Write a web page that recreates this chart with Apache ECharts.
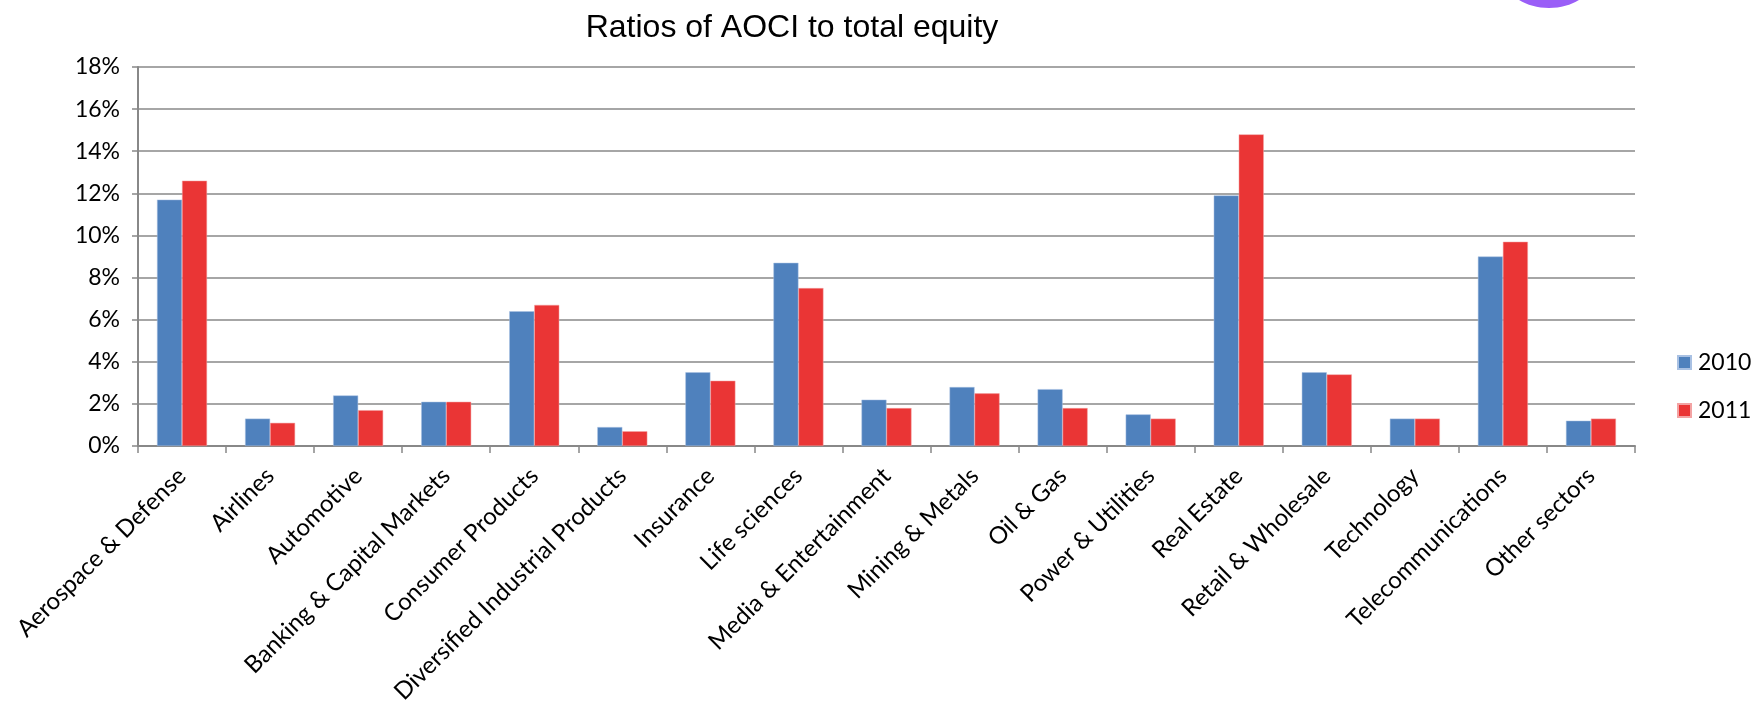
<!DOCTYPE html>
<html>
<head>
<meta charset="utf-8">
<script src="https://cdn.jsdelivr.net/npm/echarts@6/dist/echarts.min.js"></script>
<style>
html,body{margin:0;padding:0;background:#fff;}
#chart{width:1760px;height:710px;}
</style>
</head>
<body>
<div id="chart"></div>
<script>
const titleText = 'Ratios of AOCI to total equity';
const categories = ['Aerospace & Defense','Airlines','Automotive','Banking & Capital Markets','Consumer Products','Diversified Industrial Products','Insurance','Life sciences','Media & Entertainment','Mining & Metals','Oil & Gas','Power & Utilities','Real Estate','Retail & Wholesale','Technology','Telecommunications','Other sectors'];
const seriesNames = ['2010','2011'];
const values2010 = [11.7,1.3,2.4,2.1,6.4,0.9,3.5,8.7,2.2,2.8,2.7,1.5,11.9,3.5,1.3,9.0,1.2];
const values2011 = [12.6,1.1,1.7,2.1,6.7,0.7,3.1,7.5,1.8,2.5,1.8,1.3,14.8,3.4,1.3,9.7,1.3];
const yMin = 0, yMax = 18, yStep = 2;

const chart = echarts.init(document.getElementById('chart'), null, {renderer:'canvas'});
const labelFont = 'Lato, "Noto Sans", sans-serif';
chart.setOption({
  animation:false,
  backgroundColor:'#ffffff',
  title:{
    text:titleText, left:787, top:7, textAlign:'center',
    textStyle:{fontFamily:'"Liberation Sans", Arial, sans-serif', fontWeight:'normal', fontSize:32, color:'#000'}
  },
  legend:{
    orient:'vertical', left:1672, top:346, itemWidth:13, itemHeight:13, itemGap:25,
    icon:'rect',
    textStyle:{fontFamily:labelFont, fontSize:23, color:'#000', padding:[0,0,0,2]},
    data:seriesNames
  },
  graphic:[{
    type:'ellipse', shape:{cx:1549, cy:-22, rx:44, ry:30},
    style:{fill:'#9a5ef7'}
  }],
  grid:{left:138, right:125, top:67, bottom:264, containLabel:false},
  xAxis:{
    type:'category', data:categories, boundaryGap:true,
    axisLine:{show:true, lineStyle:{color:'#888', width:2}},
    axisTick:{show:true, length:7, alignWithLabel:false, lineStyle:{color:'#888', width:1.5}},
    axisLabel:{interval:0, rotate:45, fontFamily:labelFont, fontSize:24, color:'#000', margin:26}
  },
  yAxis:{
    type:'value', min:yMin, max:yMax, interval:yStep,
    axisLine:{show:true, lineStyle:{color:'#888', width:2}},
    axisTick:{show:true, length:6, lineStyle:{color:'#888', width:1.5}},
    splitLine:{show:true, lineStyle:{color:'#888', width:1.5}},
    axisLabel:{formatter:'{value}%', fontFamily:labelFont, fontSize:23, color:'#000', margin:18}
  },
  series:[
    {name:seriesNames[0], type:'bar', data:values2010, barWidth:25, barGap:'0%',
     itemStyle:{color:'#4f81bd', borderColor:'#a9c1e3', borderWidth:0.5}},
    {name:seriesNames[1], type:'bar', data:values2011, barWidth:25, barGap:'0%',
     itemStyle:{color:'#ea3535', borderColor:'#f3a3a3', borderWidth:0.5}}
  ]
});
</script>
</body>
</html>
